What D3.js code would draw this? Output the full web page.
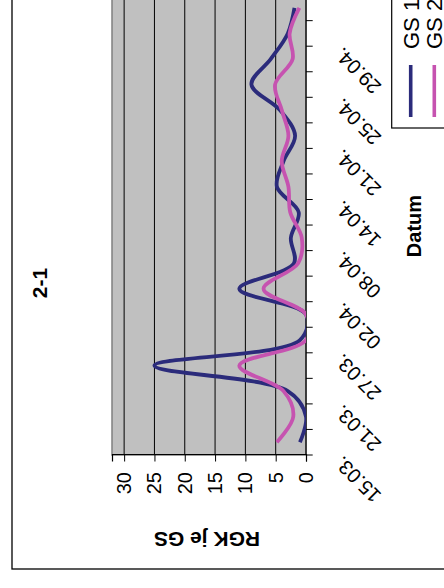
<!DOCTYPE html>
<html>
<head>
<meta charset="utf-8">
<script src="https://cdn.jsdelivr.net/npm/d3@7"></script>
<style>
  html, body { margin: 0; padding: 0; background: #fff; }
  svg { display: block; }
  text { font-family: "Liberation Sans", Arial, sans-serif; fill: #000; }
</style>
</head>
<body>
<svg id="chart" width="444" height="588"></svg>
<script>
// Sampling dates (every second one is labelled on the axis)
const categories = ["15.03.", "18.03.", "21.03.", "24.03.", "27.03.", "30.03.",
                    "02.04.", "05.04.", "08.04.", "11.04.", "14.04.", "17.04.",
                    "21.04.", "23.04.", "25.04.", "27.04.", "29.04.", "01.05."];
// RGK per GS
const gs1 = [1.0, 0, 3, 25, 1, 0, 11, 2, 2.5, 1.2, 4.8, 3.7, 1.8, 4.3, 9, 5.8, 3.0, 1.9];
const gs2 = [4.8, 2.1, 3.7, 11, 0, 0, 7, 1.3, 0.7, 2.6, 2.9, 4.0, 2.9, 4.0, 5.1, 2.2, 2.7, 1.1];
const seriesNames = ["GS 1", "GS 2"];
const seriesColors = ["#2b2b7b", "#c653b0"];
const valueTicks = [0, 5, 10, 15, 20, 25, 30];

const title = "2-1";
const xTitle = "Datum";
const yTitle = "RGK je GS";

// The chart is laid out landscape (588 x 444) and turned a quarter turn
const W = 588, H = 444;
const svg = d3.select("#chart");
const root = svg.append("g").attr("transform", `translate(0,${W}) rotate(-90)`);

// outer chart frame
root.append("rect")
  .attr("x", 19).attr("y", 12).attr("width", 600).attr("height", 460)
  .attr("fill", "#fff").attr("stroke", "#000").attr("stroke-width", 1.3);

const plot = { left: 133, top: 112, bottom: 306 };
const band = 25.55;
const x = d3.scaleBand().domain(categories)
  .range([plot.left, plot.left + band * categories.length]).padding(0);
const y = d3.scaleLinear().domain([0, 32]).range([plot.bottom, plot.top]);
const cx = c => x(c) + x.bandwidth() / 2;
const plotRight = plot.left + band * categories.length;

// plot area
root.append("rect")
  .attr("x", plot.left).attr("y", plot.top)
  .attr("width", plotRight - plot.left).attr("height", plot.bottom - plot.top)
  .attr("fill", "#c0c0c0").attr("stroke", "#808080").attr("stroke-width", 1.5);

// gridlines
root.append("g").selectAll("line").data(valueTicks.filter(v => v > 0)).join("line")
  .attr("x1", plot.left).attr("x2", plotRight)
  .attr("y1", d => y(d)).attr("y2", d => y(d))
  .attr("stroke", "#000").attr("stroke-width", 1);

// value axis
const yAxis = root.append("g")
  .attr("transform", `translate(${plot.left},0)`)
  .call(d3.axisLeft(y).tickValues(valueTicks).tickSize(6.5).tickPadding(10.5));
yAxis.select(".domain").attr("stroke", "#000").attr("stroke-width", 1.2);
yAxis.selectAll(".tick line").attr("stroke", "#000");
yAxis.selectAll(".tick text")
  .style("font-family", '"Liberation Sans", Arial, sans-serif')
  .style("font-size", "20px").attr("fill", "#000");

// category axis
const catG = root.append("g");
catG.append("line")
  .attr("x1", plot.left).attr("x2", plotRight)
  .attr("y1", plot.bottom).attr("y2", plot.bottom)
  .attr("stroke", "#000").attr("stroke-width", 1.2);
catG.selectAll("line.tk").data(categories).join("line").attr("class", "tk")
  .attr("x1", d => x(d)).attr("x2", d => x(d))
  .attr("y1", plot.bottom).attr("y2", plot.bottom + 6.7)
  .attr("stroke", "#000");
catG.selectAll("text").data(categories.filter((d, i) => i % 2 === 0)).join("text")
  .attr("transform", d => `translate(${x(d)},${plot.bottom + 37}) rotate(-45)`)
  .attr("text-anchor", "end")
  .style("font-size", "20px")
  .text(d => d);

// series lines
root.append("clipPath").attr("id", "plotClip")
  .append("rect").attr("x", plot.left).attr("y", plot.top)
  .attr("width", plotRight - plot.left).attr("height", plot.bottom - plot.top);

const line = d3.line()
  .x((d, i) => cx(categories[i]))
  .y(d => y(d))
  .curve(d3.curveCatmullRom.alpha(0.5));

const lines = root.append("g").attr("clip-path", "url(#plotClip)");
[gs1, gs2].forEach((s, k) => {
  lines.append("path").datum(s)
    .attr("d", line)
    .attr("fill", "none")
    .attr("stroke", seriesColors[k])
    .attr("stroke-width", 3.8)
    .attr("stroke-linejoin", "round");
});

// titles
root.append("text")
  .attr("x", 305).attr("y", 47)
  .attr("text-anchor", "middle")
  .style("font-size", "21px").style("font-weight", "bold")
  .text(title);
root.append("text")
  .attr("x", 362).attr("y", 421)
  .attr("text-anchor", "middle")
  .style("font-size", "20px").style("font-weight", "bold")
  .text(xTitle);
root.append("text")
  .attr("transform", `translate(56,207) rotate(-90)`)
  .attr("text-anchor", "middle")
  .style("font-size", "21px").style("font-weight", "bold")
  .text(yTitle);

// legend
const leg = root.append("g");
leg.append("rect")
  .attr("x", 460).attr("y", 391.7).attr("width", 200).attr("height", 80)
  .attr("fill", "#fff").attr("stroke", "#000").attr("stroke-width", 1.2);
seriesNames.forEach((name, k) => {
  const ry = 410.7 + k * 23.6;
  leg.append("line")
    .attr("x1", 471).attr("x2", 523).attr("y1", ry).attr("y2", ry)
    .attr("stroke", seriesColors[k]).attr("stroke-width", 3.6);
  leg.append("text")
    .attr("x", 539).attr("y", ry).attr("dy", "0.36em")
    .style("font-size", "22px")
    .text(name);
});
</script>
</body>
</html>
